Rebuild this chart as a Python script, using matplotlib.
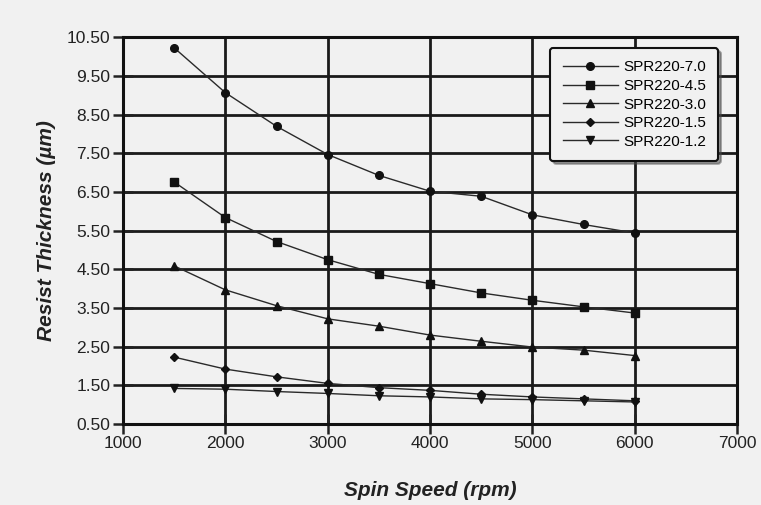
import matplotlib
matplotlib.use("Agg")
import matplotlib.pyplot as plt

plt.rcParams['font.family'] = ['Liberation Sans', 'DejaVu Sans']

spin = [1500, 2000, 2500, 3000, 3500, 4000, 4500, 5000, 5500, 6000]
spr70 = [10.23, 9.07, 8.20, 7.47, 6.93, 6.52, 6.39, 5.91, 5.66, 5.44]
spr45 = [6.76, 5.84, 5.22, 4.75, 4.37, 4.13, 3.89, 3.70, 3.53, 3.37]
spr30 = [4.59, 3.97, 3.56, 3.22, 3.03, 2.80, 2.64, 2.49, 2.41, 2.27]
spr15 = [2.23, 1.92, 1.72, 1.55, 1.44, 1.37, 1.27, 1.20, 1.15, 1.10]
spr12 = [1.42, 1.40, 1.34, 1.29, 1.23, 1.20, 1.15, 1.13, 1.10, 1.07]

series = [("SPR220-7.0", spr70, 'o', 5.5),
          ("SPR220-4.5", spr45, 's', 6),
          ("SPR220-3.0", spr30, '^', 6),
          ("SPR220-1.5", spr15, 'D', 4.5),
          ("SPR220-1.2", spr12, 'v', 6)]

xticks = [1000, 2000, 3000, 4000, 5000, 6000, 7000]
yticks = [0.5, 1.5, 2.5, 3.5, 4.5, 5.5, 6.5, 7.5, 8.5, 9.5, 10.5]

bg = '#f1f1f1'
fig = plt.figure(figsize=(7.61, 5.05), dpi=100, facecolor=bg)
ax = fig.add_axes([0.1616, 0.1604, 0.807, 0.7656])
ax.set_facecolor(bg)

for name, vals, mk, ms in series:
    ax.plot(spin, vals, color='#2a2a2a', lw=1.0, marker=mk, ms=ms,
            mfc='#111111', mec='#111111', label=name)

ax.set_xlim(1000, 7000)
ax.set_ylim(0.5, 10.5)
ax.set_xticks(xticks)
ax.set_yticks(yticks)
ax.set_yticklabels([f"{v:.2f}" for v in yticks])
ax.grid(True, color='#1a1a1a', lw=2.0)
ax.set_axisbelow(True)
for s in ax.spines.values():
    s.set_linewidth(2.2)
    s.set_color('#111111')
ax.tick_params(direction='inout', length=14, width=1.8, labelsize=12.5,
               colors='#222222', pad=2)

ax.set_xlabel("Spin Speed (rpm)", fontsize=15, fontweight='bold',
              fontstyle='italic', color='#222222', labelpad=21)
ax.set_ylabel("Resist Thickness (\u00b5m)", fontsize=15, fontweight='bold',
              fontstyle='italic', color='#222222', labelpad=8)

leg = ax.legend(loc='upper right', bbox_to_anchor=(0.969, 0.972), fontsize=11,
                frameon=True, fancybox=True, shadow=True, handlelength=3.6,
                handletextpad=0.35, borderpad=0.8, labelspacing=0.3,
                borderaxespad=0, framealpha=1)
leg.get_frame().set_facecolor(bg)
leg.get_frame().set_edgecolor('#111111')
leg.get_frame().set_linewidth(1.5)

fig.savefig("out.png", dpi=100, facecolor=bg)
